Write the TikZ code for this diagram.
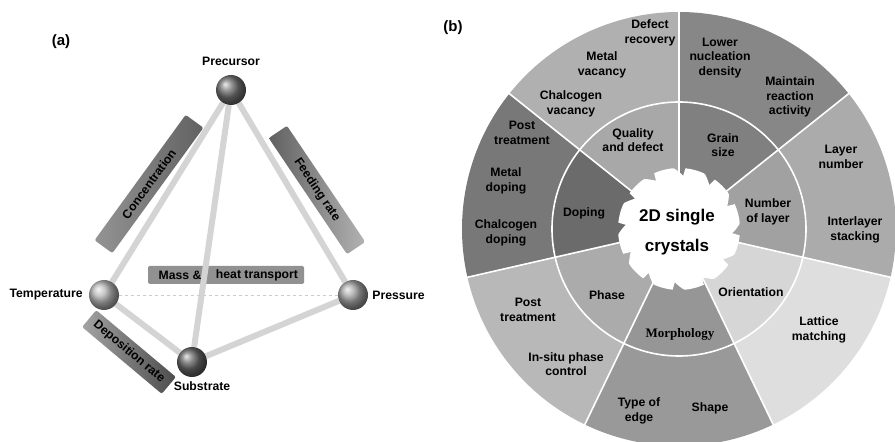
\documentclass[tikz,border=0pt]{standalone}
\usepackage{fontspec}
\setmainfont{Liberation Sans}
\newfontfamily\morphfont{Liberation Serif}
\usetikzlibrary{positioning}

\pgfdeclarelayer{bars}
\pgfdeclarelayer{rods}
\pgfsetlayers{bars,rods,main}

\tikzset{
  lbl/.style={font=\bfseries\fontsize{12.2}{14.6}\selectfont,align=center,inner sep=0pt},
  panel/.style={font=\bfseries\fontsize{15}{18}\selectfont,inner sep=0pt},
  ball/.style={circle,minimum size=30pt,inner sep=0pt,shading=ball,ball color=#1},
  rod/.style={draw=black!17,line width=6pt},
  tag/.style={lbl,minimum width=#1,minimum height=22pt,rounded corners=2pt},
}

\begin{document}
\begin{tikzpicture}[x=1pt,y=1pt]
\useasboundingbox (0,0) rectangle (895,442);
\clip (0,0) rectangle (895,442);

% (a) growth parameters
\node[panel] (pa) at (61,400) {(a)};
\node[ball=black!55] (prec) at (231,352) {};
\node[ball=black!28] (temp) at (104,147) {};
\node[ball=black!36] (pres) at (353,147) {};
\node[ball=black!60] (subs) at (192,80) {};
\node[lbl,above=9pt of prec] (precl) {Precursor};
\node[lbl,left=6pt of temp] (templ) {Temperature};
\node[lbl,right=4pt of pres] (presl) {Pressure};
\node[lbl,below=4pt of subs,xshift=10pt] (subsl) {Substrate};

\begin{pgfonlayer}{rods}
\draw[rod] (prec) -- (temp);
\draw[rod] (prec) -- (pres);
\draw[rod] (prec) -- (subs);
\draw[rod] (temp) -- (subs);
\draw[rod] (pres) -- (subs);
\draw[black!20,dashed,line width=0.8pt] (temp) -- (pres);
\end{pgfonlayer}

\begin{pgfonlayer}{bars}
\node[tag=155pt,rotate=54,left color=black!42,right color=black!62] (conc) at (149,258) {Concentration};
\node[tag=140pt,rotate=-56,left color=black!62,right color=black!30] (feed) at (317,252) {Feeding rate};
\node[tag=104pt,rotate=-40,left color=black!36,right color=black!70] (depo) at (129,90) {Deposition rate};
\node[tag=156pt,minimum height=18pt,rounded corners=1.5pt,fill=black!43] (mass) at (226,167) {};
\end{pgfonlayer}
\node[lbl] (massl) at (180,167) {Mass \&};
\node[lbl] (heatl) at (257,167) {heat transport};

% (b) 2D single crystals wheel
\node[panel] (pb) at (453,414) {(b)};
\begin{scope}[shift={(679,213)}]
\foreach \i/\cin/\cout in {0/34/31, 1/58/53, 2/33/28, 3/41/40, 4/16/13, 5/37/33, 6/50/47} {
  \pgfmathsetmacro\a{90+\i*360/7}
  \pgfmathsetmacro\b{\a+360/7}
  \fill[black!\cout] (\a:127) arc[start angle=\a,end angle=\b,radius=127]
    -- (\b:217) arc[start angle=\b,end angle=\a,radius=217] -- cycle;
  \fill[black!\cin] (0,0) -- (\a:127) arc[start angle=\a,end angle=\b,radius=127] -- cycle;
}
\foreach \i in {0,...,6}
  \draw[white,line width=1.6pt] (0,0) -- ({90+\i*360/7}:220);
\draw[white,line width=1.6pt] (0,0) circle[radius=127];
\fill[white] plot[domain=0:360,samples=241] (\x:{61-8*max(0,1-mod(\x+5,30)/10)}) -- cycle;
\end{scope}

\node[font=\bfseries\fontsize{17}{30}\selectfont,align=center,inner sep=0pt] (core) at (677,210) {2D single\\crystals};

\node[lbl] (qual) at (633,302) {Quality\\and defect};
\node[lbl] (defrec) at (650,409) {Defect\\recovery};
\node[lbl] (metvac) at (602,377) {Metal\\vacancy};
\node[lbl] (chvac) at (571,338) {Chalcogen\\vacancy};

\node[lbl] (grain) at (723,297) {Grain\\size};
\node[lbl] (lownuc) at (720,384) {Lower\\nucleation\\density};
\node[lbl] (react) at (790,345) {Maintain\\reaction\\activity};

\node[lbl] (nlayer) at (768,230) {Number\\of layer};
\node[lbl] (laynum) at (841,285) {Layer\\number};
\node[lbl] (stack) at (855,212) {Interlayer\\stacking};

\node[lbl] (orient) at (751,150) {Orientation};
\node[lbl] (lattice) at (819,112) {Lattice\\matching};

\node[lbl,font=\morphfont\bfseries\fontsize{13}{15}\selectfont] (morph) at (680,108) {Morphology};
\node[lbl] (edge) at (639,31) {Type of\\edge};
\node[lbl] (shape) at (710,34) {Shape};

\node[lbl] (phase) at (607,147) {Phase};
\node[lbl] (postph) at (528,132) {Post\\treatment};
\node[lbl] (insitu) at (566,78) {In-situ phase\\control};

\node[lbl] (doping) at (584,229) {Doping};
\node[lbl] (postdp) at (522,309) {Post\\treatment};
\node[lbl] (metdop) at (506,261) {Metal\\doping};
\node[lbl] (chdop) at (506,209) {Chalcogen\\doping};
\end{tikzpicture}
\end{document}
